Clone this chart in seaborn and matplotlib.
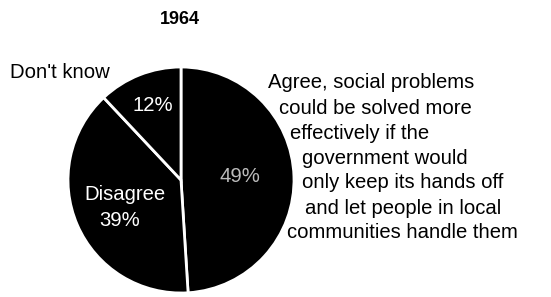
import matplotlib
matplotlib.use('Agg')
import matplotlib.pyplot as plt
import seaborn as sns

sns.set_theme(style="white")
plt.rcParams['font.family'] = ['Liberation Sans', 'DejaVu Sans']
plt.rcParams['text.color'] = 'black'

# Data
title = '1964'
categories = ['Agree', 'Disagree', "Don't know"]
shares = [49, 39, 12]
agree_lines = [
    'Agree, social problems',
    'could be solved more',
    'effectively if the',
    'government would',
    'only keep its hands off',
    'and let people in local',
    'communities handle them',
]

W, H = 551, 297
fig = plt.figure(figsize=(W / 100, H / 100), dpi=100)

# pie centre ~ (181, 180) px, radius ~113 px
cx, cy, r = 181, 180, 113
ax = fig.add_axes([(cx - r) / W, (H - cy - r) / H, 2 * r / W, 2 * r / H])
ax.pie(shares, colors=['black'] * len(shares), startangle=90, counterclock=False,
       wedgeprops=dict(edgecolor='white', linewidth=2))
ax.set_xlim(-1, 1)
ax.set_ylim(-1, 1)
ax.set_aspect('equal')
ax.axis('off')

# labels inside the slices
fs = 14.6
ax.text(0.52, 0.035, f'{shares[0]}%', color='#bbbbbb', ha='center', va='center', fontsize=fs)
ax.text(-0.50, -0.13, categories[1], color='white', ha='center', va='center', fontsize=fs)
ax.text(-0.54, -0.36, f'{shares[1]}%', color='white', ha='center', va='center', fontsize=fs)
ax.text(-0.25, 0.66, f'{shares[2]}%', color='white', ha='center', va='center', fontsize=fs)

def px(x, y):
    return x / W, 1 - y / H

fig.text(*px(180, 20), title, ha='center', va='center', fontsize=13, fontweight='bold')
fig.text(*px(10, 72), categories[2], ha='left', va='center', fontsize=fs)

indents = [268, 279, 290, 302, 302, 305, 287]
for i, line in enumerate(agree_lines):
    fig.text(*px(indents[i], 83 + 25 * i), line, ha='left', va='center', fontsize=fs)

fig.savefig('out.png', dpi=100)
